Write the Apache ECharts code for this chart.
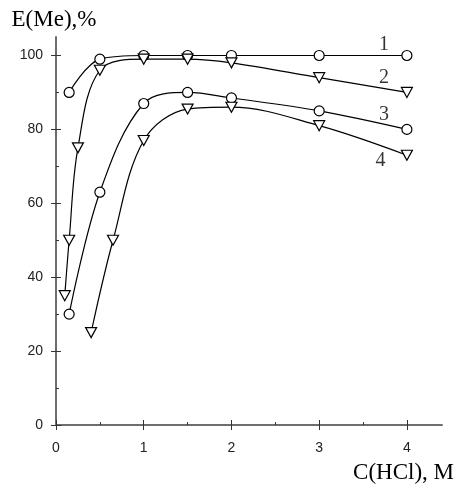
<!DOCTYPE html>
<html>
<head>
<meta charset="utf-8">
<script src="https://cdn.jsdelivr.net/npm/echarts@6/dist/echarts.min.js"></script>
<style>
html,body{margin:0;padding:0;background:#fff;}
#chart{width:457px;height:484px;}
</style>
</head>
<body>
<div id="chart"></div>
<script>
// ---- data ----
const x1 = [0.15, 0.5, 1, 1.5, 2, 3, 4];
const y1 = [90, 99, 100, 100, 100, 100, 100];
const x2 = [0.1, 0.15, 0.25, 0.5, 1, 1.5, 2, 3, 4];
const y2 = [35, 50, 75, 96, 99, 99, 98, 94, 90];
const x3 = [0.15, 0.5, 1, 1.5, 2, 3, 4];
const y3 = [30, 63, 87, 90, 88.5, 85, 80];
const x4 = [0.4, 0.65, 1, 1.5, 2, 3, 4];
const y4 = [25, 50, 77, 85.5, 86, 81, 73];
const curveLabels = ['1', '2', '3', '4'];
const curveLabelX = [3.74, 3.74, 3.74, 3.7];
const curveLabelY = [103, 94, 84, 71.4];
const xMajor = [0, 1, 2, 3, 4];
const xMinor = [0.5, 1.5, 2.5, 3.5];
const yMajor = [0, 20, 40, 60, 80, 100];
const yMinor = [10, 30, 50, 70, 90];
const xTitle = 'C(HCl), M';
const yTitle = 'E(Me),%';

function pairs(xs, ys) { return xs.map((x, i) => [x, ys[i]]); }

const chart = echarts.init(document.getElementById('chart'), null, {renderer: 'canvas'});
const tickStyle = {color: '#333', width: 1};
const labelFont = {fontFamily: 'Liberation Sans', fontSize: 14, color: '#222'};
const serif = {fontFamily: 'Liberation Serif', fontSize: 20, color: '#000'};
const serifTitle = {fontFamily: 'Liberation Serif', fontSize: 23, color: '#000'};

function xAx(extra) {
  return Object.assign({
    type: 'value', min: 0, max: 4.4, position: 'bottom', offset: 0,
    splitLine: {show: false},
    axisLine: {show: false, onZero: false},
    axisLabel: {show: false},
    axisTick: {show: false}
  }, extra);
}
function yAx(extra) {
  return Object.assign({
    type: 'value', min: 0, max: 105, position: 'left', offset: 0,
    splitLine: {show: false},
    axisLine: {show: false, onZero: false},
    axisLabel: {show: false},
    axisTick: {show: false}
  }, extra);
}

const lineBase = {
  type: 'line', smooth: 0.35, xAxisIndex: 0, yAxisIndex: 0,
  lineStyle: {color: '#000', width: 1.2},
  itemStyle: {color: '#fff', borderColor: '#000', borderWidth: 1.2},
  showAllSymbol: true, z: 3
};
const circ = {symbol: 'circle', symbolSize: 10};
const tri = {symbol: 'triangle', symbolSize: [11, 10], symbolRotate: 180};

chart.setOption({
  animation: false,
  grid: {left: 56, right: 14, top: 37, bottom: 59},
  xAxis: [
    xAx({
      axisLine: {show: true, onZero: false, lineStyle: {color: '#6e6e6e', width: 2}},
      axisTick: {show: true, inside: false, length: 5, customValues: xMajor, lineStyle: tickStyle},
      axisLabel: Object.assign({show: true, margin: 16, customValues: xMajor}, labelFont),
      name: xTitle, nameLocation: 'end', nameGap: 12,
      nameTextStyle: Object.assign({align: 'right', verticalAlign: 'top', padding: [36, 0, 0, 0]}, serifTitle)
    }),
    xAx({axisTick: {show: true, inside: true, length: 5, customValues: xMajor, lineStyle: tickStyle}}),
    xAx({axisTick: {show: true, inside: true, length: 3, customValues: xMinor, lineStyle: tickStyle}})
  ],
  yAxis: [
    yAx({
      axisLine: {show: true, onZero: false, lineStyle: {color: '#6e6e6e', width: 2}},
      axisTick: {show: true, inside: false, length: 5, customValues: yMajor, lineStyle: tickStyle},
      axisLabel: Object.assign({show: true, margin: 13, customValues: yMajor}, labelFont),
      name: yTitle, nameLocation: 'end', nameGap: 6,
      nameTextStyle: Object.assign({align: 'center', padding: [0, 4, 0, 0]}, serifTitle)
    }),
    yAx({axisTick: {show: true, inside: true, length: 5, customValues: yMajor, lineStyle: tickStyle}}),
    yAx({axisTick: {show: true, inside: true, length: 3, customValues: yMinor, lineStyle: tickStyle}})
  ],
  series: [
    Object.assign({}, lineBase, circ, {name: '1', data: pairs(x1, y1)}),
    Object.assign({}, lineBase, tri, {name: '2', data: pairs(x2, y2)}),
    Object.assign({}, lineBase, circ, {name: '3', data: pairs(x3, y3)}),
    Object.assign({}, lineBase, tri, {name: '4', data: pairs(x4, y4)}),
    {
      type: 'scatter', xAxisIndex: 0, yAxisIndex: 0, symbolSize: 0, z: 5,
      data: curveLabels.map((t, i) => [curveLabelX[i], curveLabelY[i], t]),
      label: Object.assign({show: true, position: 'inside', formatter: p => p.data[2]}, serif)
    }
  ]
});
</script>
</body>
</html>
